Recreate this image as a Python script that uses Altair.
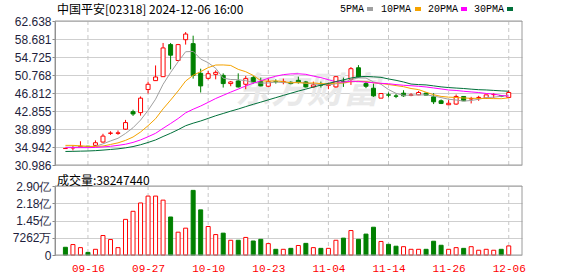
import json
import altair as alt
import pandas as pd

# ---------------- data ----------------
dates = ["09-11", "09-12", "09-13", "09-16", "09-17", "09-19", "09-20", "09-23", "09-24", "09-25",
         "09-26", "09-27", "09-30", "10-02", "10-03", "10-04", "10-07", "10-08", "10-09", "10-10",
         "10-14", "10-15", "10-16", "10-17", "10-18", "10-21", "10-22", "10-23", "10-24", "10-25",
         "10-28", "10-29", "10-30", "10-31", "11-01", "11-04", "11-05", "11-06", "11-07", "11-08",
         "11-11", "11-12", "11-13", "11-14", "11-15", "11-18", "11-19", "11-20", "11-21", "11-22",
         "11-25", "11-26", "11-27", "11-28", "11-29", "12-02", "12-03", "12-04", "12-05", "12-06"]

opens = [34.60, 34.75, 35.00, 35.10, 35.30, 36.03, 37.95, 37.95, 38.86, 42.71,
         42.50, 47.57, 49.53, 50.40, 57.45, 53.96, 58.53, 57.66, 51.13, 50.04,
         50.91, 50.69, 48.88, 49.46, 48.73, 50.19, 49.31, 48.30, 49.35, 49.28,
         49.17, 49.60, 49.24, 48.15, 48.66, 48.50, 48.15, 49.40, 49.82, 52.36,
         48.88, 47.86, 45.68, 46.41, 46.17, 46.77, 46.30, 46.41, 46.77, 45.97,
         45.10, 44.23, 44.38, 46.05, 45.50, 45.80, 45.68, 46.45, 46.20, 45.83]
highs = [34.70, 35.30, 36.20, 35.20, 36.40, 37.85, 38.40, 38.57, 40.90, 43.14,
         46.05, 49.31, 52.87, 57.81, 57.81, 57.60, 60.20, 59.41, 52.15, 51.64,
         51.78, 51.13, 49.46, 51.13, 50.55, 50.55, 50.19, 49.97, 49.82, 49.97,
         49.39, 50.40, 49.46, 49.31, 49.31, 49.10, 50.55, 50.19, 52.51, 52.94,
         49.31, 48.88, 46.77, 46.92, 46.60, 47.42, 46.77, 47.28, 46.92, 46.77,
         45.40, 45.25, 46.48, 46.05, 45.97, 46.19, 46.41, 46.77, 46.30, 47.42]
lows = [34.50, 34.20, 34.94, 35.00, 35.10, 35.90, 37.60, 37.63, 38.72, 41.76,
        41.84, 46.70, 49.46, 50.33, 52.00, 53.80, 57.45, 49.97, 46.92, 49.75,
        49.82, 48.01, 48.30, 48.01, 47.65, 48.88, 48.30, 48.15, 48.88, 48.73,
        48.73, 48.88, 48.01, 48.01, 48.01, 47.65, 48.01, 48.15, 48.59, 50.19,
        47.87, 45.97, 45.68, 45.83, 45.68, 45.97, 46.10, 46.34, 46.30, 44.38,
        44.38, 44.20, 44.23, 45.10, 44.52, 45.10, 45.50, 45.68, 45.90, 45.83]
closes = [34.62, 34.80, 35.10, 35.05, 35.88, 37.34, 38.00, 38.05, 40.31, 42.20,
          45.68, 48.73, 50.33, 56.72, 55.12, 57.45, 59.77, 50.70, 48.37, 51.06,
          51.35, 48.88, 49.24, 48.15, 49.97, 49.24, 48.37, 49.31, 49.28, 49.35,
          48.88, 49.10, 48.15, 48.59, 48.52, 48.56, 50.40, 49.30, 52.15, 50.33,
          48.30, 46.19, 46.70, 46.34, 46.10, 46.19, 46.40, 46.92, 46.34, 44.88,
          44.52, 44.56, 46.05, 45.10, 45.60, 45.85, 46.41, 46.48, 46.10, 46.92]
prev_close = 34.80  # close of the day before the first bar

volumes = [32500000, 44000000, 31000000, 11000000, 24000000, 82000000, 65000000, 31000000, 150000000, 184000000,
           219000000, 248000000, 248000000, 231000000, 160000000, 96000000, 113000000, 272000000, 190000000, 120000000,
           86000000, 92000000, 62000000, 62000000, 74000000, 59000000, 66000000, 48000000, 24000000, 24000000,
           28000000, 40000000, 49000000, 31000000, 28000000, 28000000, 62000000, 71000000, 103000000, 66000000,
           88000000, 117000000, 57000000, 45000000, 37000000, 35000000, 24000000, 24000000, 24000000, 58000000,
           41000000, 24000000, 31000000, 28000000, 35000000, 20000000, 24000000, 20000000, 24000000, 38247440]

ma5 = [34.90, 34.90, 34.95, 35.00, 35.09, 35.63, 36.27, 36.86, 37.92, 39.18,
       40.85, 42.99, 45.45, 48.73, 51.32, 53.67, 55.88, 55.95, 54.28, 53.47,
       52.25, 50.07, 49.78, 49.74, 49.52, 49.10, 48.99, 49.01, 49.23, 49.11,
       49.04, 49.18, 48.95, 48.81, 48.65, 48.58, 48.84, 49.07, 49.79, 50.15,
       50.10, 49.25, 48.73, 47.57, 46.73, 46.30, 46.35, 46.39, 46.39, 46.15,
       45.81, 45.44, 45.27, 45.02, 45.17, 45.43, 45.80, 45.89, 46.09, 46.35]
ma10 = [35.30, 35.30, 35.20, 35.10, 35.05, 35.15, 35.50, 35.85, 36.40, 37.14,
        38.24, 39.63, 41.16, 43.32, 45.25, 47.26, 49.44, 50.70, 51.51, 52.39,
        52.96, 52.98, 52.87, 52.01, 51.49, 50.67, 49.53, 49.39, 49.49, 49.31,
        49.07, 49.09, 48.98, 49.02, 48.88, 48.81, 49.01, 49.01, 49.30, 49.40,
        49.34, 49.05, 48.90, 48.68, 48.44, 48.20, 47.80, 47.56, 46.98, 46.44,
        46.06, 45.90, 45.83, 45.71, 45.66, 45.62, 45.62, 45.58, 45.56, 45.76]
ma20 = [34.80, 34.80, 34.80, 34.80, 34.85, 34.95, 35.10, 35.30, 35.55, 35.95,
        36.50, 37.20, 37.95, 39.05, 40.10, 41.20, 42.45, 43.25, 43.95, 44.76,
        45.60, 46.30, 47.01, 47.67, 48.37, 48.97, 49.48, 50.05, 50.50, 50.85,
        51.01, 51.03, 50.92, 50.52, 50.19, 49.74, 49.27, 49.20, 49.39, 49.36,
        49.20, 49.07, 48.94, 48.85, 48.66, 48.51, 48.41, 48.29, 48.14, 47.92,
        47.70, 47.47, 47.37, 47.19, 47.05, 46.91, 46.71, 46.57, 46.27, 46.10]
ma30 = [33.96, 33.99, 34.03, 34.07, 34.14, 34.26, 34.40, 34.54, 34.76, 35.04,
        35.44, 35.94, 36.49, 37.25, 37.96, 38.75, 39.62, 40.18, 40.66, 41.23,
        41.81, 42.31, 42.82, 43.29, 43.82, 44.33, 44.80, 45.30, 45.79, 46.28,
        46.76, 47.23, 47.67, 48.12, 48.54, 48.91, 49.33, 49.70, 50.10, 50.37,
        50.46, 50.37, 50.25, 49.90, 49.60, 49.23, 48.78, 48.66, 48.59, 48.38,
        48.16, 48.01, 47.90, 47.80, 47.66, 47.54, 47.48, 47.38, 47.28, 47.20]

ma_names = ["5PMA", "10PMA", "20PMA", "30PMA"]
ma_colors = ["#a0a0a0", "#f5a300", "#ff00ff", "#00703a"]

tick_dates = ["09-16", "09-27", "10-10", "10-23", "11-04", "11-14", "11-26", "12-06"]
price_ticks = [30.986, 34.942, 38.899, 42.855, 46.812, 50.768, 54.725, 58.681, 62.638]
vol_ticks = [0, 72620000, 145240000, 217860000, 290480000]

title_text = "中国平安[02318] 2024-12-06 16:00"
watermark = "东方财富"

# ---------------- frames ----------------
n = len(dates)
df = pd.DataFrame({
    "i": list(range(n)), "date": dates, "open": opens, "high": highs,
    "low": lows, "close": closes, "volume": volumes,
    "prev": [prev_close] + closes[:-1],
})
df["dir"] = ["up" if c >= o else "down" for o, c in zip(df["open"], df["close"])]
df["vdir"] = ["up" if c >= p else "down" for p, c in zip(df["prev"], df["close"])]

ma_rows = []
for name, vals in zip(ma_names, [ma5, ma10, ma20, ma30]):
    for i, v in enumerate(vals):
        ma_rows.append({"i": i, "name": name, "value": v})
ma_df = pd.DataFrame(ma_rows)

tick_idx = [dates.index(d) for d in tick_dates]
tick_df = pd.DataFrame({"i": tick_idx})

# ---------------- layout / styles ----------------
W = 467          # plot width
H = 234          # total height of both panels
TOP_H = 144      # price panel occupies 0..144
VOL_Y0 = 165     # volume panel occupies 165..234
RED = "#ff0000"
GREEN = "#008000"
FRAME = "#9a9a9a"
NUM_FONT = "Liberation Sans"
CJK_FONT = "Noto Sans CJK SC"
MONO_FONT = "Liberation Mono"
LABEL_COLOR = "#1e1e3c"

x_scale = alt.Scale(domain=[-0.72, 60.1], nice=False, zero=False)
y_scale = alt.Scale(domain=[price_ticks[0], price_ticks[-1]], nice=False, zero=False,
                    range=[TOP_H, 0])
v_scale = alt.Scale(domain=[0, vol_ticks[-1]], nice=False, range=[H, VOL_Y0])

stroke_scale = alt.Scale(domain=["up", "down"], range=[RED, GREEN])
fill_scale = alt.Scale(domain=["up", "down"], range=["#ffffff", GREEN])

date_lookup = json.dumps(dates)
x_axis = alt.Axis(values=tick_idx, grid=False, labelExpr=f"{date_lookup}[datum.value]",
                  ticks=False, domain=False, labelFont=MONO_FONT, labelFontSize=11,
                  labelColor=RED, labelPadding=7, labelFlush=False, title=None)
y_axis_top = alt.Axis(values=price_ticks, format=".3f", grid=True, gridColor="#cfcfcf",
                      tickSize=3, tickColor="#888888", domainColor="#888888",
                      labelFont=NUM_FONT, labelFontSize=12, labelColor=LABEL_COLOR,
                      labelPadding=1, title=None, orient="left")
y_axis_vol = alt.Axis(values=vol_ticks, grid=True, gridColor="#cfcfcf",
                      labelExpr="datum.value == 0 ? '0' : (datum.value < 1e8 ? format(datum.value / 1e4, 'd') + '万' : format(datum.value / 1e8, '.2f') + '亿')",
                      tickSize=3, tickColor="#888888", domainColor="#888888",
                      labelFont=NUM_FONT, labelFontSize=12, labelColor=LABEL_COLOR,
                      labelPadding=1, title=None, orient="left")

X = alt.X("i:Q", scale=x_scale, axis=x_axis)
base = alt.Chart(df)
one_row = pd.DataFrame({"k": [0]})

# dashed vertical separators of both panels
vgrid_top = alt.Chart(tick_df).mark_rule(strokeDash=[4, 3], color="#c8c8c8", strokeWidth=1).encode(
    x=X, y=alt.value(0), y2=alt.value(TOP_H))
vgrid_vol = alt.Chart(tick_df).mark_rule(strokeDash=[4, 3], color="#c8c8c8", strokeWidth=1).encode(
    x=X, y=alt.value(VOL_Y0), y2=alt.value(H))

# watermark
wm = alt.Chart(pd.DataFrame({"t": [watermark]})).mark_text(
    font=CJK_FONT, fontSize=36, fontWeight="bold", fontStyle="italic",
    color="#e9e9e9", align="center", baseline="middle"
).encode(x=alt.value(252), y=alt.value(71), text="t:N")

# price panel
wicks = base.mark_rule(strokeWidth=1).encode(
    x=X,
    y=alt.Y("low:Q", scale=y_scale, axis=y_axis_top),
    y2="high:Q",
    stroke=alt.Stroke("dir:N", scale=stroke_scale, legend=None),
)
bodies = base.mark_bar(width=4, strokeWidth=1).encode(
    x=X,
    y=alt.Y("open:Q", scale=y_scale, axis=y_axis_top),
    y2="close:Q",
    stroke=alt.Stroke("dir:N", scale=stroke_scale, legend=None),
    fill=alt.Fill("dir:N", scale=fill_scale, legend=None),
)
lines = alt.Chart(ma_df).mark_line(strokeWidth=1).encode(
    x=X,
    y=alt.Y("value:Q", scale=y_scale, axis=y_axis_top),
    color=alt.Color("name:N", scale=alt.Scale(domain=ma_names, range=ma_colors), legend=None),
    detail="name:N",
)
price_panel = alt.layer(wicks, bodies, lines)

# volume panel
vol_bars = base.mark_bar(width=4, strokeWidth=1).encode(
    x=X,
    y=alt.Y("volume:Q", scale=v_scale, axis=y_axis_vol),
    stroke=alt.Stroke("vdir:N", scale=stroke_scale, legend=None),
    fill=alt.Fill("vdir:N", scale=fill_scale, legend=None),
)
vol_panel = alt.layer(vol_bars)

# frames
frame_top = alt.Chart(one_row).mark_rect(fillOpacity=0, stroke=FRAME, strokeWidth=1).encode(
    x=alt.value(0), x2=alt.value(W), y=alt.value(0), y2=alt.value(TOP_H))
frame_vol = alt.Chart(one_row).mark_rect(fillOpacity=0, stroke=FRAME, strokeWidth=1).encode(
    x=alt.value(0), x2=alt.value(W), y=alt.value(VOL_Y0), y2=alt.value(H))

# texts
title_mark = alt.Chart(pd.DataFrame({"t": [title_text]})).mark_text(
    font=CJK_FONT, fontSize=12, color="#000000", align="left", baseline="middle"
).encode(x=alt.value(2), y=alt.value(-11.5), text="t:N")
vol_title = alt.Chart(pd.DataFrame({"t": [f"成交量:{volumes[-1]}"]})).mark_text(
    font=CJK_FONT, fontSize=12, color="#000000", align="left", baseline="middle"
).encode(x=alt.value(2), y=alt.value(VOL_Y0 - 5.5), text="t:N")

legend_layers = []
legend_text_x = [285, 326, 373, 419]
legend_box_x = [312, 360, 406, 452]
for name, col, tx, bx in zip(ma_names, ma_colors, legend_text_x, legend_box_x):
    one = alt.Chart(pd.DataFrame({"t": [name]}))
    legend_layers.append(one.mark_text(font=MONO_FONT, fontSize=10, color="#000000",
                                       align="left", baseline="middle")
                         .encode(x=alt.value(tx), y=alt.value(-12), text="t:N"))
    legend_layers.append(one.mark_rect(color=col)
                         .encode(x=alt.value(bx), x2=alt.value(bx + 6),
                                 y=alt.value(-14), y2=alt.value(-10)))

chart = alt.layer(
    wm, vgrid_top, vgrid_vol, price_panel, vol_panel, frame_top, frame_vol,
    title_mark, vol_title, *legend_layers
).resolve_scale(y="independent").properties(
    width=W, height=H,
    autosize=alt.AutoSizeParams(type="none"),
    padding={"left": 55, "top": 21, "right": 56, "bottom": 21},
    background="#ffffff",
).configure_view(stroke=None)

chart.save("out.html", embed_options={"renderer": "svg", "actions": False})
